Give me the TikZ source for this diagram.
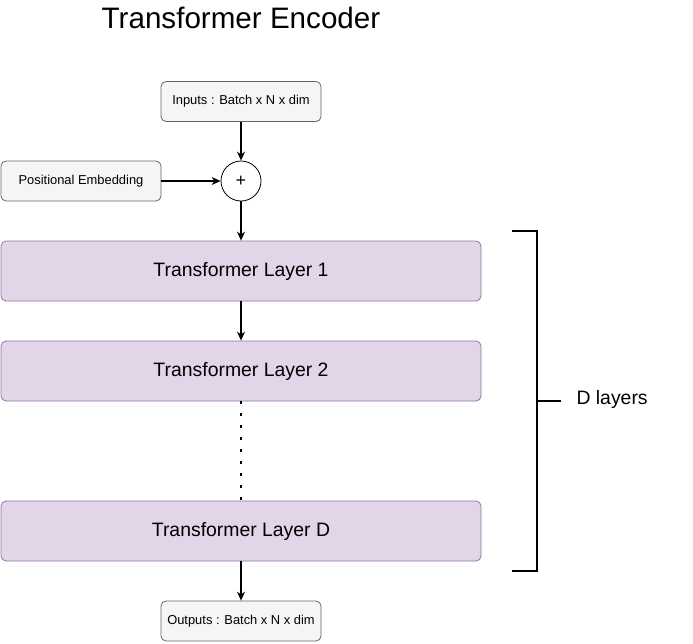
\documentclass[tikz,border=0pt]{standalone}
\usepackage{fontspec}
\setmainfont{Liberation Sans}
\usetikzlibrary{arrows.meta}

\definecolor{greyfill}{HTML}{F5F5F5}
\definecolor{greyline}{HTML}{666666}
\definecolor{layerfill}{HTML}{E1D5E7}
\definecolor{layerline}{HTML}{9673A6}

\begin{document}
\begin{tikzpicture}[x=1pt, y=-1pt,
    iobox/.style={draw=greyline, fill=greyfill, rounded corners=5pt, line width=0.8pt,
        minimum width=160pt, minimum height=40pt, inner sep=0pt,
        font=\fontsize{12.9}{15}\selectfont},
    layer/.style={draw=layerline, fill=layerfill, rounded corners=5pt, line width=0.8pt,
        minimum width=480pt, minimum height=60pt, inner sep=0pt,
        font=\fontsize{19.4}{23}\selectfont},
    flow/.style={line width=1.2pt, -{Stealth[length=9pt,width=8pt]}}]
    \useasboundingbox (0,0) rectangle (693,643);

    \node (title) at (241,18) {\fontsize{29.6}{34}\selectfont Transformer Encoder};

    \node[iobox] (inputs) at (241,101.5) {Inputs : Batch x N x dim};
    \node[draw, circle, line width=0.8pt, minimum size=40pt, inner sep=0pt,
        font=\fontsize{18}{20}\selectfont] (plus) at (241,181) {+};
    \node[iobox] (posemb) at (81,181) {Positional Embedding};

    \node[layer] (layer1) at (241,271) {Transformer Layer 1};
    \node[layer] (layer2) at (241,371) {Transformer Layer 2};
    \node[layer] (layerD) at (241,531) {Transformer Layer D};

    \node[iobox] (outputs) at (241,621) {Outputs : Batch x N x dim};

    \draw[flow] (inputs) -- (plus);
    \draw[flow] (posemb) -- (plus);
    \draw[flow] (plus) -- (layer1);
    \draw[flow] (layer1) -- (layer2);
    \draw[line width=2.6pt, dash pattern=on 2.6pt off 9.4pt] (layer2.south) -- (layerD.north);
    \draw[flow] (layerD) -- (outputs);

    % bracket for the repeated layers
    \coordinate (brtop) at (512,231);
    \coordinate (brbot) at (512,571);
    \coordinate (brmid) at (537,401);
    \draw[line width=1.2pt] (brtop) -- (537,231) -- (537,571) -- (brbot);
    \node[anchor=west, font=\fontsize{19.4}{23}\selectfont] (dlayers) at (573,399) {D layers};
    \draw[line width=1.2pt] (brmid) -- (561,401);
\end{tikzpicture}
\end{document}
